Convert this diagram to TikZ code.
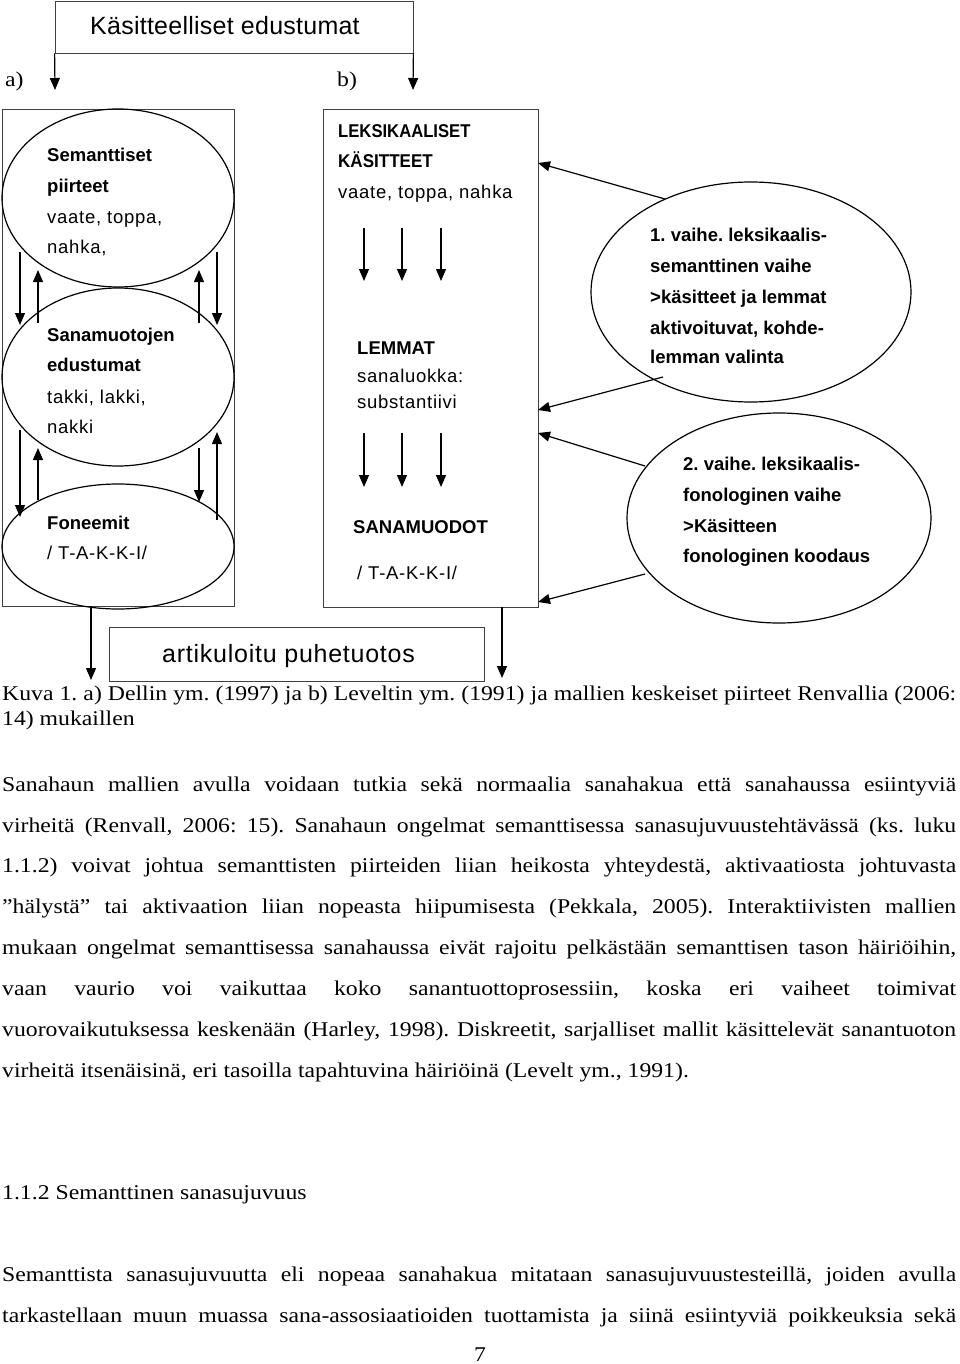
\documentclass[tikz,border=0pt]{standalone}
\usepackage{fontspec}
\setmainfont{Liberation Serif}[FakeStretch=1.13]
\newfontfamily\arialf{Liberation Sans}
\usetikzlibrary{arrows.meta,shapes.geometric}
\frenchspacing
\begin{document}
\begin{tikzpicture}[x=1pt,y=-1pt,
  frame/.style={draw=black!75,line width=0.8pt,rectangle,inner sep=0pt},
  oval/.style={draw=black,line width=1.2pt,ellipse,inner sep=0pt},
  arr/.style={draw=black,line width=1.2pt,-{Triangle[length=12pt,width=10pt]}},
  lbl/.style={anchor=base west,inner sep=0pt,font=\arialf\addfontfeature{LetterSpace=4}\fontsize{18.5}{20}\selectfont},
  lblb/.style={anchor=base west,inner sep=0pt,font=\arialf\bfseries\fontsize{18.5}{20}\selectfont},
  big/.style={anchor=base west,inner sep=0pt,font=\arialf\addfontfeature{LetterSpace=3}\fontsize{25}{28}\selectfont},
  titlefont/.style={anchor=base west,inner sep=0pt,font=\arialf\addfontfeature{LetterSpace=1}\fontsize{25}{28}\selectfont},
  body/.style={anchor=base west,inner sep=0pt,font=\fontsize{21}{25}\selectfont\frenchspacing}]
\useasboundingbox (0,0) rectangle (960,1364);
% title box
\node[frame,minimum width=358pt,minimum height=52pt] (title) at (234,27) {};
\node[titlefont] (titletxt) at (90,35) {Käsitteelliset edustumat};
\coordinate (ta) at (55,90);
\coordinate (tb) at (413,90);
\draw[arr] (title.south west) -- (ta);
\draw[arr] (title.south east) -- (tb);
\node[body] (la) at (5,87) {a)};
\node[body] (lb) at (337,87) {b)};
% left box with ellipses
\node[frame,minimum width=232pt,minimum height=497pt] (lbox) at (118,357.5) {};
\node[oval,minimum width=232pt,minimum height=178pt] (e1) at (118,198) {};
\node[oval,minimum width=232pt,minimum height=178pt] (e2) at (118,377) {};
\node[oval,minimum width=232pt,minimum height=125pt] (e3) at (118,546.5) {};
\node[lblb] (t11) at (47,162) {Semanttiset};
\node[lblb] (t12) at (47,193) {piirteet};
\node[lbl] (t13) at (47,224) {vaate, toppa,};
\node[lbl] (t14) at (47,254) {nahka,};
\node[lblb] (t21) at (47,341) {Sanamuotojen};
\node[lblb] (t22) at (47,371) {edustumat};
\node[lbl] (t23) at (47,403) {takki, lakki,};
\node[lbl] (t24) at (47,433) {nakki};
\node[lblb] (t31) at (47,529) {Foneemit};
\node[lbl] (t32) at (47,559) {/ T-A-K-K-I/};
% arrows between left ellipses
\coordinate (a1s) at (20,252); \coordinate (a1e) at (20,325);
\coordinate (a2s) at (38,323); \coordinate (a2e) at (38,270);
\coordinate (a3s) at (199,323); \coordinate (a3e) at (199,270);
\coordinate (a4s) at (217,252); \coordinate (a4e) at (217,325);
\coordinate (b1s) at (20,430); \coordinate (b1e) at (20,517);
\coordinate (b2s) at (38,500); \coordinate (b2e) at (38,448);
\coordinate (b3s) at (199,448); \coordinate (b3e) at (199,502);
\coordinate (b4s) at (217,520); \coordinate (b4e) at (217,432);
\foreach \n in {a1,a2,a3,a4,b1,b2,b3,b4} {\draw[arr] (\n s) -- (\n e);}
% middle box
\node[frame,minimum width=215pt,minimum height=498pt] (mbox) at (430.5,358) {};
\node[lblb] (m1) at (338,138) {\scalebox{0.9}[1]{LEKSIKAALISET}};
\node[lblb] (m2) at (338,168) {\scalebox{0.92}[1]{KÄSITTEET}};
\node[lbl] (m3) at (338,199) {vaate, toppa, nahka};
\node[lblb] (m4) at (357,354) {LEMMAT};
\node[lbl] (m5) at (357,382) {sanaluokka:};
\node[lbl] (m6) at (357,408) {substantiivi};
\node[lblb] (m7) at (353,533) {SANAMUODOT};
\node[lbl] (m8) at (357,579) {/ T-A-K-K-I/};
\foreach \x/\n in {364/p,402/q,441/r} {
  \coordinate (\n1s) at (\x,228); \coordinate (\n1e) at (\x,281);
  \coordinate (\n2s) at (\x,433); \coordinate (\n2e) at (\x,487);
  \draw[arr] (\n1s) -- (\n1e);
  \draw[arr] (\n2s) -- (\n2e);
}
% right ellipses
\node[oval,minimum width=320pt,minimum height=220pt] (r1) at (751,292) {};
\node[oval,minimum width=304pt,minimum height=210pt] (r2) at (779,518) {};
\node[lblb] (r11) at (650,242) {1. vaihe. leksikaalis-};
\node[lblb] (r12) at (650,272) {semanttinen vaihe};
\node[lblb] (r13) at (650,303) {>käsitteet ja lemmat};
\node[lblb] (r14) at (650,334) {aktivoituvat, kohde-};
\node[lblb] (r15) at (650,363) {lemman valinta};
\node[lblb] (r21) at (683,470) {2. vaihe. leksikaalis-};
\node[lblb] (r22) at (683,501) {fonologinen vaihe};
\node[lblb] (r23) at (683,532) {>Käsitteen};
\node[lblb] (r24) at (683,562) {fonologinen koodaus};
\coordinate (ra1) at (665,199); \coordinate (ma1) at (538,163);
\coordinate (ra2) at (663,377); \coordinate (ma2) at (538,410);
\coordinate (ra3) at (645,466); \coordinate (ma3) at (538,433);
\coordinate (ra4) at (645,574); \coordinate (ma4) at (538,602);
\draw[arr] (ra1) -- (ma1);
\draw[arr] (ra2) -- (ma2);
\draw[arr] (ra3) -- (ma3);
\draw[arr] (ra4) -- (ma4);
% output
\node[frame,minimum width=375pt,minimum height=54pt] (out) at (296.5,654) {};
\node[big] (outtxt) at (162,662) {artikuloitu puhetuotos};
\coordinate (lo) at (91,606); \coordinate (loe) at (91,680);
\coordinate (mo) at (502,607); \coordinate (moe) at (502,678);
\draw[arr] (lo) -- (loe);
\draw[arr] (mo) -- (moe);
% caption and body text
\node[body] (c1) at (2,700) {\makebox[954pt][s]{Kuva 1. a) Dellin ym. (1997) ja b) Leveltin ym. (1991) ja mallien keskeiset piirteet Renvallia (2006:}};
\node[body] (c2) at (2,725) {14) mukaillen};
\node[body] (p1) at (2,791) {\makebox[954pt][s]{Sanahaun mallien avulla voidaan tutkia sekä normaalia sanahakua että sanahaussa esiintyviä}};
\node[body] (p2) at (2,832) {\makebox[954pt][s]{virheitä (Renvall, 2006: 15). Sanahaun ongelmat semanttisessa sanasujuvuustehtävässä (ks. luku}};
\node[body] (p3) at (2,872) {\makebox[954pt][s]{1.1.2) voivat johtua semanttisten piirteiden liian heikosta yhteydestä, aktivaatiosta johtuvasta}};
\node[body] (p4) at (2,913) {\makebox[954pt][s]{”hälystä” tai aktivaation liian nopeasta hiipumisesta (Pekkala, 2005). Interaktiivisten mallien}};
\node[body] (p5) at (2,954) {\makebox[954pt][s]{mukaan ongelmat semanttisessa sanahaussa eivät rajoitu pelkästään semanttisen tason häiriöihin,}};
\node[body] (p6) at (2,995) {\makebox[954pt][s]{vaan vaurio voi vaikuttaa koko sanantuottoprosessiin, koska eri vaiheet toimivat}};
\node[body] (p7) at (2,1036) {\makebox[954pt][s]{vuorovaikutuksessa keskenään (Harley, 1998). Diskreetit, sarjalliset mallit käsittelevät sanantuoton}};
\node[body] (p8) at (2,1077) {virheitä itsenäisinä, eri tasoilla tapahtuvina häiriöinä (Levelt ym., 1991).};
\node[body] (h1) at (2,1199) {1.1.2 Semanttinen sanasujuvuus};
\node[body] (q1) at (2,1281) {\makebox[954pt][s]{Semanttista sanasujuvuutta eli nopeaa sanahakua mitataan sanasujuvuustesteillä, joiden avulla}};
\node[body] (q2) at (2,1322) {\makebox[954pt][s]{tarkastellaan muun muassa sana-assosiaatioiden tuottamista ja siinä esiintyviä poikkeuksia sekä}};
\node[body] (pg) at (474,1361) {7};
\end{tikzpicture}
\end{document}
